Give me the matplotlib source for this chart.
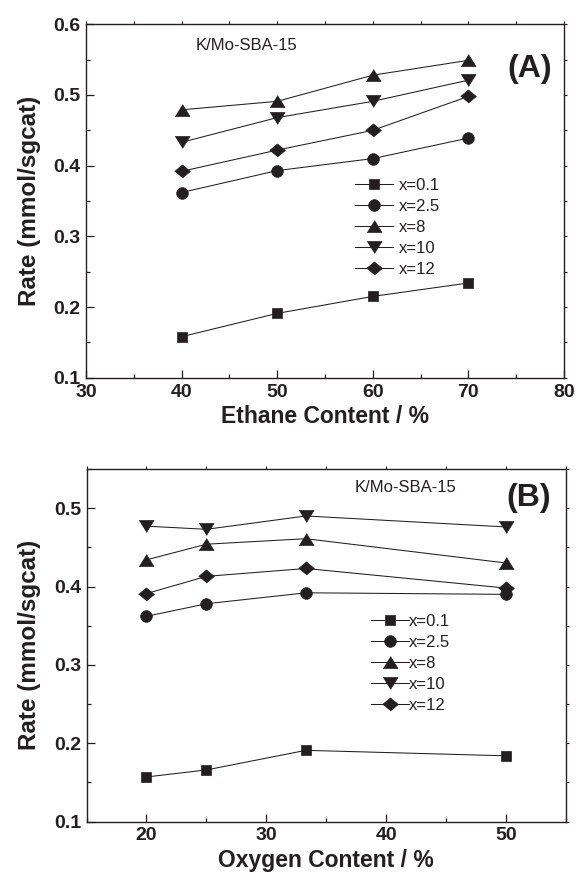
import numpy as np
import matplotlib.pyplot as plt
from matplotlib.ticker import MultipleLocator, FuncFormatter

plt.rcParams['font.family'] = ['Liberation Sans', 'DejaVu Sans']

# panel A: rate vs ethane content
ethane = [40, 50, 60, 70]
rate_a = {
    'x=0.1': [0.158, 0.191, 0.215, 0.234],
    'x=2.5': [0.362, 0.393, 0.410, 0.439],
    'x=8': [0.479, 0.491, 0.528, 0.549],
    'x=10': [0.433, 0.468, 0.491, 0.521],
    'x=12': [0.392, 0.422, 0.450, 0.498],
}

# panel B: rate vs oxygen content
oxygen = [20, 25, 33.3, 50]
rate_b = {
    'x=0.1': [0.157, 0.166, 0.191, 0.184],
    'x=2.5': [0.362, 0.378, 0.392, 0.390],
    'x=8': [0.434, 0.454, 0.461, 0.430],
    'x=10': [0.477, 0.473, 0.490, 0.476],
    'x=12': [0.391, 0.413, 0.423, 0.398],
}

# Origin-like markers: triangles and diamond are a bit wider than tall
tri_up = [(-1, -0.8), (1, -0.8), (0, 0.8)]
tri_down = [(-1, 0.8), (1, 0.8), (0, -0.8)]
diamond = [(-1, 0), (0, 0.83), (1, 0), (0, -0.83)]
markers = {'x=0.1': ('s', 7.7), 'x=2.5': ('o', 8.4), 'x=8': (tri_up, 10.8),
           'x=10': (tri_down, 10.8), 'x=12': (diamond, 11.3)}
ink = '#231f20'

fig = plt.figure(figsize=(5.78, 8.8), dpi=100)
ax_a = fig.add_axes([0.1488, 0.5708, 0.8270, 0.4016])
ax_b = fig.add_axes([0.1497, 0.0663, 0.8296, 0.4008])


def draw_panel(ax, xs, series, xlim, ylim, xlabel, tag, tag_xy, note_xy,
               leg_anchor, leg_pad):
    for name, ys in series.items():
        m, ms = markers[name]
        ax.plot(xs, ys, color=ink, lw=0.75, marker=m, ms=ms,
                mfc=ink, mec=ink, mew=0.5, label=name)
    ax.set_xlim(*xlim)
    ax.set_ylim(*ylim)
    ax.xaxis.set_major_locator(MultipleLocator(10))
    ax.xaxis.set_minor_locator(MultipleLocator(5))
    ax.yaxis.set_major_locator(MultipleLocator(0.1))
    ax.yaxis.set_minor_locator(MultipleLocator(0.05))
    ax.yaxis.set_major_formatter(FuncFormatter(lambda v, p: f'{v:.1f}'))
    ax.tick_params(which='both', direction='in', colors=ink, labelsize=14, width=0.9)
    ax.tick_params(which='major', length=5.8)
    ax.tick_params(which='minor', length=3.1)
    ax.tick_params(axis='y', pad=4)
    ax.tick_params(axis='x', pad=4.2)
    for lab in ax.get_xticklabels() + ax.get_yticklabels():
        lab.set_fontweight('bold')
    for sp in ax.spines.values():
        sp.set_color(ink)
        sp.set_linewidth(1.0)

    # small outward ticks on the top and right frame
    top = ax.secondary_xaxis('top')
    top.xaxis.set_major_locator(MultipleLocator(5))
    top.tick_params(direction='out', length=2, width=0.8, colors=ink, labeltop=False)
    right = ax.secondary_yaxis('right')
    right.yaxis.set_major_locator(MultipleLocator(0.05))
    right.tick_params(direction='out', length=2.5, width=0.8, colors=ink, labelright=False)
    for sec in (top, right):
        for sp in sec.spines.values():
            sp.set_visible(False)

    ax.set_xlabel(xlabel, fontsize=16.5, fontweight='bold', color=ink, labelpad=3.4)
    ax.set_ylabel('Rate (mmol/sgcat)', fontsize=17.5, fontweight='bold', color=ink,
                  labelpad=9)
    ax.text(tag_xy[0], tag_xy[1], tag, transform=ax.transAxes, ha='right', va='center',
            fontsize=23, fontweight='bold', color=ink)
    ax.text(note_xy[0], note_xy[1], 'K/Mo-SBA-15', transform=ax.transAxes,
            ha='left', va='center', fontsize=12, color=ink)
    ax.legend(loc='upper left', bbox_to_anchor=leg_anchor, frameon=False,
              fontsize=12, handlelength=2.3, handletextpad=leg_pad,
              labelspacing=0.36, borderpad=0, borderaxespad=0, labelcolor=ink)


draw_panel(ax_a, ethane, rate_a, (30, 80), (0.1, 0.6), 'Ethane Content / %', '(A)',
           (0.975, 0.873), (0.230, 0.941), (0.563, 0.566), 0.3)
draw_panel(ax_b, oxygen, rate_b, (15, 55), (0.1, 0.55), 'Oxygen Content / %', '(B)',
           (0.968, 0.919), (0.560, 0.946), (0.593, 0.590), 0.0)

fig.savefig('out.png', dpi=100)
